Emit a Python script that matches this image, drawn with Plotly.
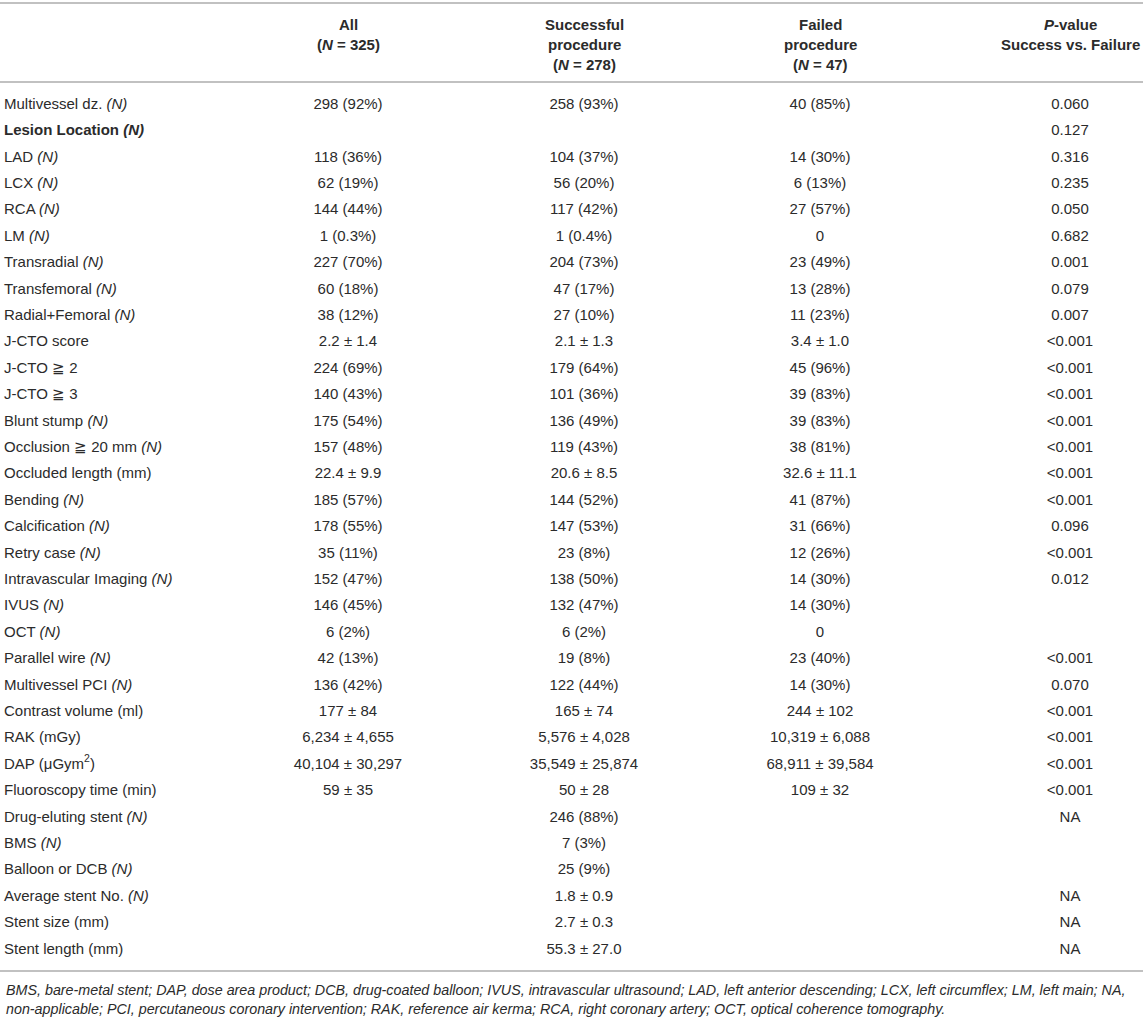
import plotly.graph_objects as go

# Data
LABELS = [
    "Multivessel dz. <i>(N)</i>", "<b>Lesion Location <i>(N)</i></b>", "LAD <i>(N)</i>", "LCX <i>(N)</i>",
    "RCA <i>(N)</i>", "LM <i>(N)</i>", "Transradial <i>(N)</i>", "Transfemoral <i>(N)</i>",
    "Radial+Femoral <i>(N)</i>", "J-CTO score", "J-CTO ≧ 2", "J-CTO ≧ 3", "Blunt stump <i>(N)</i>",
    "Occlusion ≧ 20 mm <i>(N)</i>", "Occluded length (mm)", "Bending <i>(N)</i>",
    "Calcification <i>(N)</i>", "Retry case <i>(N)</i>", "Intravascular Imaging <i>(N)</i>",
    "IVUS <i>(N)</i>", "OCT <i>(N)</i>", "Parallel wire <i>(N)</i>", "Multivessel PCI <i>(N)</i>",
    "Contrast volume (ml)", "RAK (mGy)", "DAP (μGym<sup>2</sup>)", "Fluoroscopy time (min)",
    "Drug-eluting stent <i>(N)</i>", "BMS <i>(N)</i>", "Balloon or DCB <i>(N)</i>",
    "Average stent No. <i>(N)</i>", "Stent size (mm)", "Stent length (mm)",
]
ALL_VALS = [
    "298 (92%)", "", "118 (36%)", "62 (19%)", "144 (44%)", "1 (0.3%)", "227 (70%)", "60 (18%)",
    "38 (12%)", "2.2 ± 1.4", "224 (69%)", "140 (43%)", "175 (54%)", "157 (48%)", "22.4 ± 9.9",
    "185 (57%)", "178 (55%)", "35 (11%)", "152 (47%)", "146 (45%)", "6 (2%)", "42 (13%)",
    "136 (42%)", "177 ± 84", "6,234 ± 4,655", "40,104 ± 30,297", "59 ± 35",
    "", "", "", "", "", "",
]
SUCCESS_VALS = [
    "258 (93%)", "", "104 (37%)", "56 (20%)", "117 (42%)", "1 (0.4%)", "204 (73%)", "47 (17%)",
    "27 (10%)", "2.1 ± 1.3", "179 (64%)", "101 (36%)", "136 (49%)", "119 (43%)", "20.6 ± 8.5",
    "144 (52%)", "147 (53%)", "23 (8%)", "138 (50%)", "132 (47%)", "6 (2%)", "19 (8%)",
    "122 (44%)", "165 ± 74", "5,576 ± 4,028", "35,549 ± 25,874", "50 ± 28",
    "246 (88%)", "7 (3%)", "25 (9%)", "1.8 ± 0.9", "2.7 ± 0.3", "55.3 ± 27.0",
]
FAILED_VALS = [
    "40 (85%)", "", "14 (30%)", "6 (13%)", "27 (57%)", "0", "23 (49%)", "13 (28%)",
    "11 (23%)", "3.4 ± 1.0", "45 (96%)", "39 (83%)", "39 (83%)", "38 (81%)", "32.6 ± 11.1",
    "41 (87%)", "31 (66%)", "12 (26%)", "14 (30%)", "14 (30%)", "0", "23 (40%)",
    "14 (30%)", "244 ± 102", "10,319 ± 6,088", "68,911 ± 39,584", "109 ± 32",
    "", "", "", "", "", "",
]
P_VALS = [
    "0.060", "0.127", "0.316", "0.235", "0.050", "0.682", "0.001", "0.079",
    "0.007", "<0.001", "<0.001", "<0.001", "<0.001", "<0.001", "<0.001",
    "<0.001", "0.096", "<0.001", "0.012", "", "", "<0.001",
    "0.070", "<0.001", "<0.001", "<0.001", "<0.001",
    "NA", "", "", "NA", "NA", "NA",
]
HEADERS = [
    ["All", "(<i>N</i> = 325)"],
    ["Successful", "procedure", "(<i>N</i> = 278)"],
    ["Failed", "procedure", "(<i>N</i> = 47)"],
    ["<i>P</i>-value", "Success vs. Failure"],
]
FOOTNOTE = [
    "BMS, bare-metal stent; DAP, dose area product; DCB, drug-coated balloon; IVUS, intravascular ultrasound; "
    "LAD, left anterior descending; LCX, left circumflex; LM, left main; NA,",
    "non-applicable; PCI, percutaneous coronary intervention; RAK, reference air kerma; RCA, right coronary artery; "
    "OCT, optical coherence tomography.",
]

# Layout
W, H = 1146, 1020
FONT = "Liberation Sans, Arial, sans-serif"
TEXT_COLOR = "#2b2b2b"
LINE_COLOR = "#adadad"
FONT_SIZE = 15
FOOT_SIZE = 14.3
LABEL_X = 4
COL_X = [348, 584, 820, 1070]
ROW_TOP = 105
ROW_STEP = 26.4
HEADER_Y = [24, 44, 64]
LINES_Y = [3, 82, 971]
FOOT_Y = [990, 1009]

rows_y = [ROW_TOP + i * ROW_STEP for i in range(len(LABELS))]


def add_column(x, texts, position):
    keep = [i for i, t in enumerate(texts) if t]
    fig.add_trace(go.Scatter(
        x=[x] * len(keep), y=[rows_y[i] for i in keep], text=[texts[i] for i in keep],
        mode="text", textposition=position,
        textfont=dict(family=FONT, size=FONT_SIZE, color=TEXT_COLOR),
        hoverinfo="skip",
    ))


fig = go.Figure()

add_column(LABEL_X, LABELS, "middle right")
for cx, col in zip(COL_X, [ALL_VALS, SUCCESS_VALS, FAILED_VALS, P_VALS]):
    add_column(cx, col, "middle center")

# Header cells
for cx, lines in zip(COL_X, HEADERS):
    for hy, line in zip(HEADER_Y, lines):
        fig.add_annotation(
            x=cx, y=hy, xref="x", yref="y", text=f"<b>{line}</b>", showarrow=False,
            xanchor="center", yanchor="middle",
            font=dict(family=FONT, size=FONT_SIZE, color=TEXT_COLOR),
        )

# Footnote
for fy, line in zip(FOOT_Y, FOOTNOTE):
    fig.add_annotation(
        x=LABEL_X, y=fy, xref="x", yref="y", text=f"<i>{line}</i>", showarrow=False,
        xanchor="left", yanchor="middle",
        font=dict(family=FONT, size=FOOT_SIZE, color=TEXT_COLOR),
    )

# Rules
for ly in LINES_Y:
    fig.add_shape(type="line", x0=0, x1=W - 3, y0=ly, y1=ly, xref="x", yref="y",
                  line=dict(color=LINE_COLOR, width=1.5))

fig.update_layout(
    width=W, height=H, margin=dict(l=0, r=0, t=0, b=0),
    plot_bgcolor="white", paper_bgcolor="white", showlegend=False, hovermode=False,
)
fig.update_xaxes(range=[0, W], visible=False, fixedrange=True)
fig.update_yaxes(range=[H, 0], visible=False, fixedrange=True)

fig.write_html(
    "out.html",
    config={"displayModeBar": False},
    post_script="document.body.style.margin='0';",
)
